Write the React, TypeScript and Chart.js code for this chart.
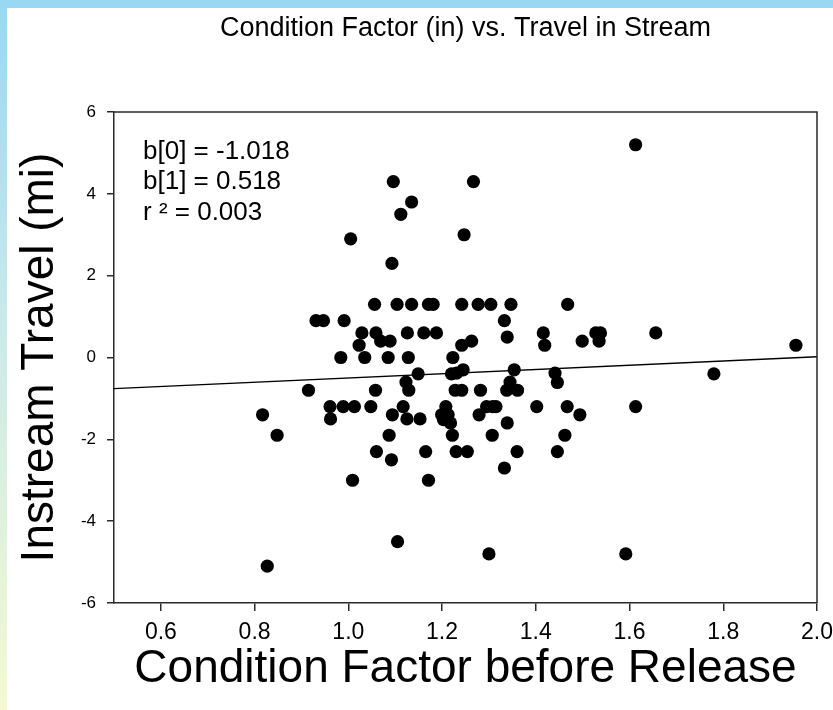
import React, { useEffect, useRef } from "react";
import { Chart, registerables } from "chart.js";

Chart.register(...registerables);

// ---- data ----
const conditionFactor = [
  1.613, 1.096, 1.267, 1.135, 1.112, 1.247, 1.005, 1.093,
  1.056, 1.104, 1.135, 1.171, 1.181, 1.242, 1.277, 1.304, 1.347, 1.468,
  0.931, 0.947, 0.991, 1.333,
  1.029, 1.059, 1.126, 1.161, 1.188, 1.416, 1.528, 1.538, 1.656,
  1.069, 1.089, 1.023, 1.242, 1.263, 1.339, 1.419, 1.499, 1.535, 1.955,
  0.984, 1.035, 1.085, 1.128, 1.223,
  1.149, 1.22, 1.231, 1.245, 1.354, 1.441, 1.78, 1.123, 1.345, 1.446,
  0.915, 1.058, 1.129, 1.228, 1.242, 1.282, 1.338, 1.361,
  0.961, 0.989, 1.013, 1.048, 1.117, 1.208, 1.295, 1.308, 1.315, 1.402, 1.467, 1.613,
  0.817, 1.094, 1.199, 1.213, 1.279, 1.494,
  0.962, 1.125, 1.153, 1.203, 1.218, 1.339,
  0.848, 1.087, 1.222, 1.307, 1.462,
  1.06, 1.165, 1.23, 1.254, 1.36, 1.446,
  1.092, 1.333, 1.009, 1.171, 1.105, 1.3, 1.592, 0.827,
];
const instreamTravel = [
  5.2, 4.3, 4.3, 3.8, 3.5, 3.0, 2.9, 2.3,
  1.3, 1.3, 1.3, 1.3, 1.3, 1.3, 1.3, 1.3, 1.3, 1.3,
  0.9, 0.9, 0.9, 0.9,
  0.6, 0.6, 0.6, 0.6, 0.6, 0.6, 0.6, 0.6, 0.6,
  0.4, 0.4, 0.3, 0.3, 0.4, 0.5, 0.3, 0.4, 0.4, 0.3,
  0, 0, 0, 0, 0,
  -0.4, -0.4, -0.38, -0.3, -0.3, -0.38, -0.4, -0.6, -0.6, -0.61,
  -0.8, -0.8, -0.8, -0.8, -0.8, -0.8, -0.8, -0.8,
  -1.2, -1.2, -1.2, -1.2, -1.2, -1.2, -1.2, -1.2, -1.2, -1.2, -1.2, -1.2,
  -1.4, -1.4, -1.4, -1.4, -1.4, -1.4,
  -1.5, -1.5, -1.5, -1.52, -1.6, -1.6,
  -1.9, -1.9, -1.9, -1.9, -1.9,
  -2.3, -2.3, -2.3, -2.3, -2.3, -2.3,
  -2.5, -2.7, -3.0, -3.0, -4.5, -4.8, -4.8, -5.1,
];
const xTickValues = [0.6, 0.8, 1.0, 1.2, 1.4, 1.6, 1.8, 2.0];
const yTickValues = [-6, -4, -2, 0, 2, 4, 6];
const xRange = [0.5, 2.0];
const yRange = [-6, 6];
const coefB0 = -1.018;
const coefB1 = 0.518;
const annotationLines = ["b[0] = -1.018", "b[1] = 0.518", "r \u00b2 = 0.003"];
const chartTitle = "Condition Factor (in) vs. Travel in Stream";
const xAxisTitle = "Condition Factor before Release";
const yAxisTitle = "Instream Travel (mi)";

const FONT = '"Liberation Sans", Arial, Helvetica, sans-serif';
const AXIS_COLOR = "#2a2a2a";

const textPlugin = {
  id: "textPlugin",
  afterDraw(chart: any) {
    const { ctx, chartArea } = chart;
    const { left, right, top, bottom } = chartArea;
    ctx.save();
    // top & right frame
    ctx.strokeStyle = AXIS_COLOR;
    ctx.lineWidth = 1.5;
    ctx.beginPath();
    ctx.moveTo(left, top);
    ctx.lineTo(right, top);
    ctx.lineTo(right, bottom);
    ctx.stroke();

    ctx.fillStyle = "#000";
    ctx.textBaseline = "alphabetic";
    // title
    ctx.font = `27px ${FONT}`;
    ctx.textAlign = "center";
    ctx.fillText(chartTitle, (left + right) / 2, 36);
    // x title
    ctx.font = `46px ${FONT}`;
    ctx.fillText(xAxisTitle, (left + right) / 2, 682);
    // y title
    ctx.save();
    ctx.translate(53, (top + bottom) / 2);
    ctx.rotate(-Math.PI / 2);
    ctx.textAlign = "center";
    ctx.fillText(yAxisTitle, 0, 0);
    ctx.restore();
    // annotation
    ctx.font = `26px ${FONT}`;
    ctx.textAlign = "left";
    annotationLines.forEach((t, i) => {
      ctx.fillText(t, left + 29, top + 47 + i * 30.3);
    });
    ctx.restore();
  },
};

export default function App() {
  const canvasRef = useRef<HTMLCanvasElement | null>(null);

  useEffect(() => {
    const canvas = canvasRef.current;
    if (!canvas) return;
    const points = conditionFactor.map((x, i) => ({ x, y: instreamTravel[i] }));
    const regression = xRange.map((x) => ({ x, y: coefB0 + coefB1 * x }));

    const chart = new Chart(canvas, {
      type: "scatter",
      data: {
        datasets: [
          {
            type: "scatter",
            label: "data",
            data: points,
            pointRadius: 6.6,
            pointHoverRadius: 6.6,
            pointBackgroundColor: "#000",
            pointBorderWidth: 0,
            backgroundColor: "#000",
            borderColor: "#000",
            order: 0,
          } as any,
          {
            type: "line",
            label: "fit",
            data: regression,
            borderColor: "#000",
            borderWidth: 1.3,
            pointRadius: 0,
            fill: false,
            order: 1,
          } as any,
        ],
      },
      options: {
        animation: false,
        responsive: false,
        maintainAspectRatio: false,
        devicePixelRatio: 1,
        events: [],
        layout: { padding: { top: 112, left: 0, right: 16, bottom: 0 } },
        plugins: {
          legend: { display: false },
          tooltip: { enabled: false },
          title: { display: false },
        },
        scales: {
          x: {
            type: "linear",
            position: "bottom",
            min: xRange[0],
            max: xRange[1],
            afterBuildTicks: (axis: any) => {
              axis.ticks = xTickValues.map((v) => ({ value: v }));
            },
            afterFit: (axis: any) => {
              axis.height = 107;
              axis.paddingLeft = 0;
              axis.paddingRight = 0;
            },
            ticks: {
              font: { family: FONT, size: 23 },
              color: "#000",
              padding: 8,
              maxRotation: 0,
              autoSkip: false,
              callback: (v: any) => Number(v).toFixed(1),
            },
            grid: {
              display: true,
              drawOnChartArea: false,
              drawTicks: true,
              tickLength: 8,
              color: AXIS_COLOR,
              lineWidth: 1.5,
            },
            border: { display: true, color: AXIS_COLOR, width: 1.5 },
          },
          y: {
            type: "linear",
            position: "left",
            min: yRange[0],
            max: yRange[1],
            afterBuildTicks: (axis: any) => {
              axis.ticks = yTickValues.map((v) => ({ value: v }));
            },
            afterFit: (axis: any) => {
              axis.width = 114;
              axis.paddingTop = 0;
              axis.paddingBottom = 0;
            },
            ticks: {
              font: { family: FONT, size: 17 },
              color: "#000",
              padding: 11,
              autoSkip: false,
              callback: (v: any) => String(v),
            },
            grid: {
              display: true,
              drawOnChartArea: false,
              drawTicks: true,
              tickLength: 7,
              color: AXIS_COLOR,
              lineWidth: 1.5,
            },
            border: { display: true, color: AXIS_COLOR, width: 1.5 },
          },
        },
      } as any,
      plugins: [textPlugin],
    });
    return () => chart.destroy();
  }, []);

  return (
    <div
      style={{
        position: "absolute",
        left: 0,
        top: 0,
        width: 833,
        height: 710,
        background: "linear-gradient(to bottom, #98d7f3 0%, #c9e9e9 45%, #f4f9d2 100%)",
        overflow: "hidden",
      }}
    >
      <div
        style={{
          position: "absolute",
          left: 7,
          top: 8,
          right: 0,
          bottom: 0,
          background: "#ffffff",
        }}
      />
      <canvas
        ref={canvasRef}
        width={833}
        height={710}
        style={{ position: "absolute", left: 0, top: 0, width: 833, height: 710 }}
      />
    </div>
  );
}
